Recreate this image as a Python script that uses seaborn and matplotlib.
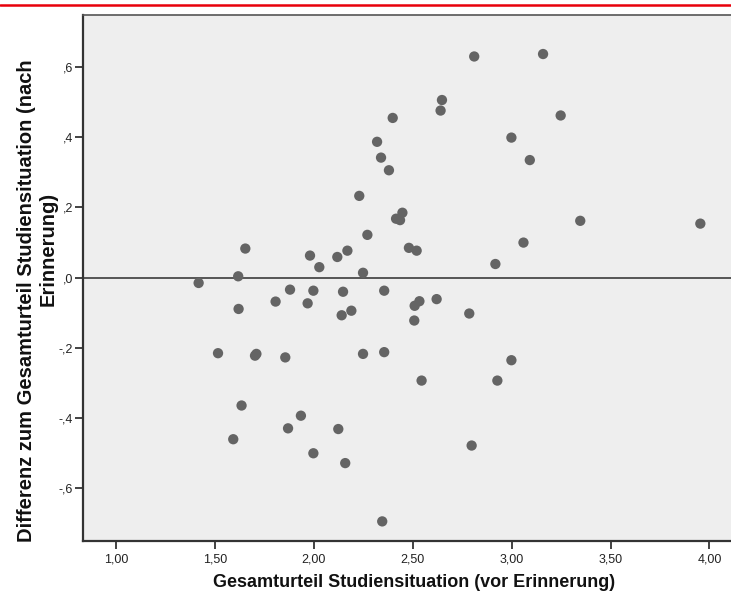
import numpy as np
import pandas as pd
import matplotlib
matplotlib.use("Agg")
import matplotlib.pyplot as plt
from matplotlib.lines import Line2D
import seaborn as sns

gesamt_vor = [
    1.418, 1.618, 1.654, 1.880, 2.811, 2.648, 2.641, 2.399, 2.999, 2.320,
    3.092, 2.340, 2.380, 2.230, 2.448, 2.416, 2.436, 2.271, 3.060, 1.981,
    2.028, 2.119, 2.170, 2.481, 2.520, 2.918, 2.249, 3.159, 3.248, 3.347,
    3.954, 1.807, 1.620, 1.516, 1.703, 1.710, 1.856, 1.635, 1.935, 1.870,
    1.593, 1.998, 1.969, 2.148, 2.141, 2.190, 2.356, 2.510, 2.534, 2.508,
    2.621, 2.786, 2.249, 2.356, 2.545, 2.928, 2.999, 2.124, 1.998, 2.159,
    2.798, 2.346,
]
differenz = [
    -0.015, 0.004, 0.083, -0.034, 0.630, 0.506, 0.476, 0.455, 0.399, 0.387,
    0.335, 0.342, 0.306, 0.233, 0.185, 0.168, 0.164, 0.122, 0.100, 0.063,
    0.030, 0.059, 0.077, 0.085, 0.077, 0.039, 0.014, 0.637, 0.462, 0.162,
    0.154, -0.068, -0.089, -0.215, -0.222, -0.217, -0.227, -0.364, -0.393, -0.429,
    -0.460, -0.037, -0.073, -0.040, -0.107, -0.094, -0.037, -0.080, -0.067, -0.122,
    -0.061, -0.102, -0.217, -0.212, -0.293, -0.293, -0.235, -0.431, -0.500, -0.528,
    -0.478, -0.694,
]
x_ticks = [1.0, 1.5, 2.0, 2.5, 3.0, 3.5, 4.0]
x_tick_labels = ["1,00", "1,50", "2,00", "2,50", "3,00", "3,50", "4,00"]
y_ticks = [-0.6, -0.4, -0.2, 0.0, 0.2, 0.4, 0.6]
y_tick_labels = ["-,6", "-,4", "-,2", ",0", ",2", ",4", ",6"]
x_title = "Gesamturteil Studiensituation (vor Erinnerung)"
y_title = ["Differenz zum Gesamturteil Studiensituation (nach", "Erinnerung)"]

df = pd.DataFrame({"vor": gesamt_vor, "diff": differenz})

sns.set_style("ticks")
plt.rcParams["font.family"] = ["Liberation Sans", "DejaVu Sans"]

W, H = 731, 596
fig = plt.figure(figsize=(W / 100, H / 100), dpi=100)
left, top, bottom = 82.7, 14.7, 540.7
ax = fig.add_axes([left / W, (H - bottom) / H, 1 - left / W, (bottom - top) / H])
ax.set_facecolor("#eeeeee")

ax.axhline(0, color="#4a4a4a", lw=1.3, zorder=1)
sns.scatterplot(data=df, x="vor", y="diff", ax=ax, color="#646464",
                s=55, edgecolor="none", zorder=3)

ax.set_xlim(0.832, 4.109)
ax.set_ylim(-0.749, 0.749)
ax.set_xticks(x_ticks)
ax.set_xticklabels(x_tick_labels)
ax.set_yticks(y_ticks)
ax.set_yticklabels(y_tick_labels)
ax.tick_params(axis="both", length=6, width=1.2, color="#222222",
               labelsize=9, labelcolor="#222222", pad=1)
ax.tick_params(axis="x", pad=3)

for side in ["left", "bottom", "top"]:
    ax.spines[side].set_color("#333333")
ax.spines["left"].set_linewidth(1.6)
ax.spines["bottom"].set_linewidth(1.6)
ax.spines["top"].set_linewidth(1.2)
ax.spines["top"].set_color("#555555")
ax.spines["right"].set_visible(False)

ax.set_xlabel(x_title, fontsize=13, fontweight="bold", color="#111111")
ax.xaxis.set_label_coords(0.511, -0.064)
ax.set_ylabel("")

# y-Titel zweizeilig wie im SPSS-Original
fig.text(27 / W, 1 - 301 / H, y_title[0], rotation=90, ha="center", va="center",
         fontsize=14.5, fontweight="bold", color="#111111")
fig.text(48 / W, 1 - 249 / H, y_title[1], rotation=90, ha="center", va="center",
         fontsize=14.5, fontweight="bold", color="#111111")

# roter Balken oben
fig.add_artist(Line2D([0, 1], [1 - 4.5 / H, 1 - 4.5 / H], transform=fig.transFigure,
                      color="#e8000b", lw=1.8))

fig.savefig("out.png", dpi=100)
